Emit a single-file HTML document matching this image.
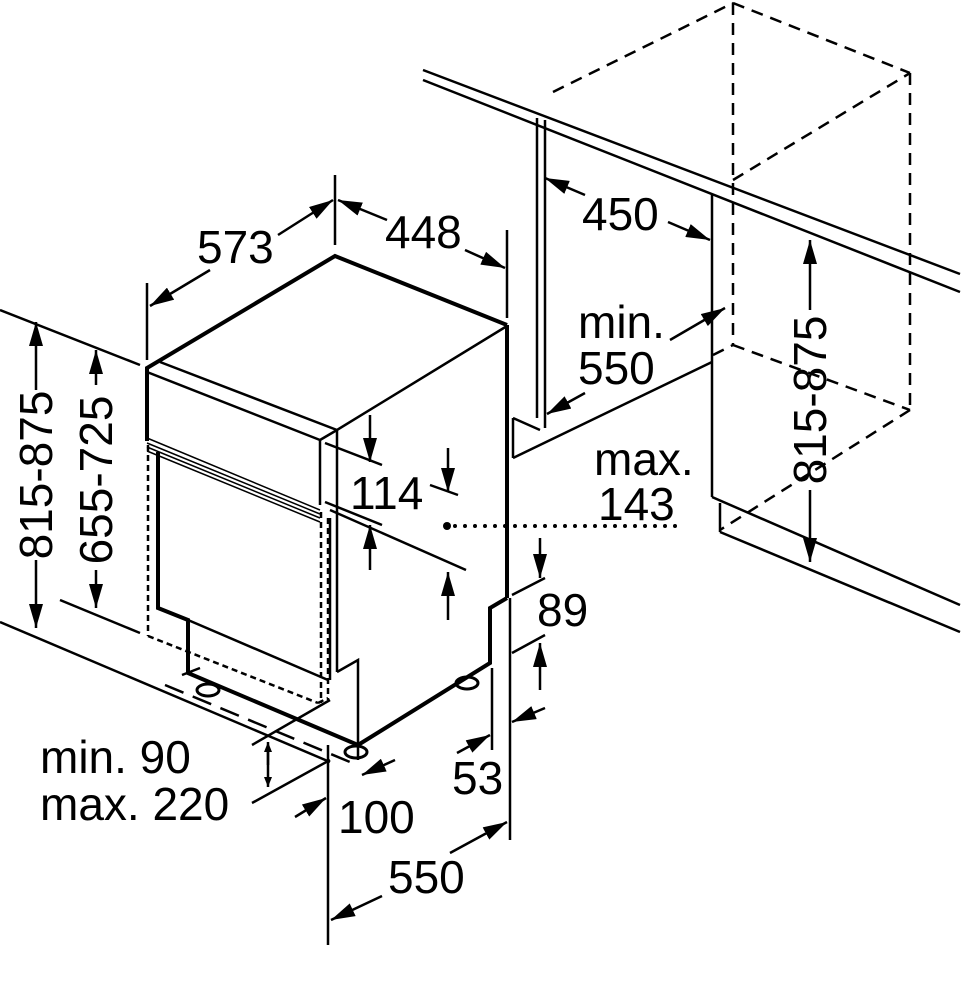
<!DOCTYPE html>
<html><head><meta charset="utf-8"><style>
html,body{margin:0;padding:0;background:#fff;}
svg{display:block;}
text{font-family:"Liberation Sans",Arial,sans-serif;font-size:46px;fill:#000;}
</style></head><body>
<svg width="967" height="1000" viewBox="0 0 967 1000" xmlns="http://www.w3.org/2000/svg">
<defs>
<marker id="a" markerWidth="10" markerHeight="8" refX="10" refY="4" orient="auto" markerUnits="userSpaceOnUse" viewBox="0 0 10 8">
<path d="M0,0 L10,4 L0,8 z" fill="#000"/></marker>
<marker id="A" markerWidth="24" markerHeight="14" refX="24" refY="7" orient="auto" markerUnits="userSpaceOnUse"><path d="M0,0 L24,7 L0,14 z" fill="#000"/></marker>
</defs>
<g stroke="#000" fill="none" stroke-width="2.5">
<line x1="423" y1="70" x2="960" y2="274"/>
<line x1="423" y1="80" x2="960" y2="292"/>
<line x1="537" y1="118" x2="537" y2="418"/>
<line x1="545" y1="120" x2="545" y2="428"/>
<line x1="513" y1="418" x2="540" y2="430"/>
<line x1="513" y1="418" x2="513" y2="458"/>
<line x1="513" y1="458" x2="712" y2="362"/>
<line x1="712" y1="195" x2="712" y2="497"/>
<line x1="712" y1="497" x2="960" y2="605"/>
<line x1="720" y1="503" x2="720" y2="532"/>
<line x1="720" y1="532" x2="960" y2="632"/>
</g>
<g stroke="#000" fill="none" stroke-width="2.5" stroke-dasharray="12,8">
<line x1="553" y1="92" x2="733" y2="3"/>
<line x1="733" y1="3" x2="910" y2="73"/>
<line x1="733" y1="3" x2="733" y2="345"/>
<line x1="910" y1="73" x2="910" y2="410"/>
<line x1="733" y1="180" x2="910" y2="73"/>
<line x1="733" y1="345" x2="910" y2="410"/>
<line x1="910" y1="410" x2="720" y2="530"/>
<line x1="713" y1="355" x2="733" y2="345"/>
</g>
<g stroke="#000" fill="none" stroke-linejoin="miter">
<path d="M147,441 L147,368 L335,256 L507,325" stroke-width="4"/>
<path d="M147,372 L320,440 M160,362 L337,430 L507,326" stroke-width="2.5"/>
<line x1="320" y1="440" x2="320" y2="505" stroke-width="2.5"/>
<line x1="337" y1="430" x2="337" y2="500" stroke-width="2.5"/>
<line x1="320" y1="440" x2="337" y2="430" stroke-width="2.5"/>
<path d="M147,438 L320,510 M147,443 L320,514 M147,447 L320,518 M147,451 L320,522" stroke-width="1.5"/>
<line x1="507" y1="325" x2="507" y2="598" stroke-width="4"/>
<path d="M507,598 L490,608 L490,663 L358,745" stroke-width="4"/>
<path d="M158,452 L158,608 L188,620 L188,673 L358,745" stroke-width="4"/>
<path d="M188,620 L328,680" stroke-width="2.5"/>
<line x1="330" y1="518" x2="330" y2="680" stroke-width="2.5"/>
<line x1="337" y1="500" x2="337" y2="672" stroke-width="2.5"/>
<path d="M337,672 L358,660 L358,760" stroke-width="2.5"/>
<ellipse cx="208" cy="690" rx="11" ry="6" stroke-width="3"/>
<ellipse cx="356" cy="752" rx="11" ry="6" stroke-width="3"/>
<ellipse cx="467" cy="683" rx="11" ry="6" stroke-width="3"/>
</g>
<g stroke="#000" fill="none" stroke-width="2.5" stroke-dasharray="6,4">
<line x1="148" y1="445" x2="148" y2="636"/>
<line x1="148" y1="636" x2="318" y2="703"/>
<line x1="321" y1="512" x2="321" y2="703"/>
<line x1="328" y1="518" x2="328" y2="700"/>
<line x1="318" y1="703" x2="328" y2="698"/>
</g>
<g stroke="#000" fill="none" stroke-width="2.5" stroke-dasharray="20,10">
<line x1="165" y1="685" x2="350" y2="762"/>
<line x1="182" y1="675" x2="200" y2="668"/>
</g>
<circle cx="447" cy="526" r="4" fill="#000"/>
<line x1="455" y1="526" x2="680" y2="526" stroke="#000" stroke-width="4" stroke-dasharray="0,10" stroke-linecap="round"/>
<g stroke="#000" fill="none" stroke-width="2.5">
<line x1="335" y1="175" x2="335" y2="245"/>
<line x1="147" y1="283" x2="147" y2="360"/>
<line x1="507" y1="230" x2="507" y2="318"/>
<line x1="278" y1="235" x2="333" y2="200" marker-end="url(#A)"/>
<line x1="210" y1="270" x2="150" y2="306" marker-end="url(#A)"/>
<line x1="387" y1="220" x2="338" y2="200" marker-end="url(#A)"/>
<line x1="465" y1="250" x2="505" y2="268" marker-end="url(#A)"/>
<line x1="0" y1="310" x2="140" y2="365"/>
<line x1="0" y1="622" x2="330" y2="762"/>
<line x1="60" y1="600" x2="140" y2="633"/>
<line x1="36" y1="390" x2="36" y2="322" marker-end="url(#A)"/>
<line x1="36" y1="560" x2="36" y2="628" marker-end="url(#A)"/>
<line x1="96" y1="385" x2="96" y2="350" marker-end="url(#A)"/>
<line x1="96" y1="570" x2="96" y2="608" marker-end="url(#A)"/>
<line x1="325" y1="443" x2="382" y2="465"/>
<line x1="325" y1="502" x2="382" y2="525"/>
<line x1="330" y1="510" x2="466" y2="570"/>
<line x1="430" y1="485" x2="458" y2="495"/>
<line x1="370" y1="415" x2="370" y2="462" marker-end="url(#A)"/>
<line x1="370" y1="570" x2="370" y2="525" marker-end="url(#A)"/>
<line x1="448" y1="448" x2="448" y2="492" marker-end="url(#A)"/>
<line x1="448" y1="620" x2="448" y2="572" marker-end="url(#A)"/>
<line x1="585" y1="195" x2="545" y2="178" marker-end="url(#A)"/>
<line x1="668" y1="222" x2="710" y2="240" marker-end="url(#A)"/>
<line x1="670" y1="340" x2="725" y2="308" marker-end="url(#A)"/>
<line x1="585" y1="393" x2="547" y2="414" marker-end="url(#A)"/>
<line x1="810" y1="310" x2="810" y2="240" marker-end="url(#A)"/>
<line x1="810" y1="490" x2="810" y2="562" marker-end="url(#A)"/>
<line x1="540" y1="538" x2="540" y2="578" marker-end="url(#A)"/>
<line x1="540" y1="690" x2="540" y2="643" marker-end="url(#A)"/>
<line x1="512" y1="595" x2="545" y2="578"/>
<line x1="512" y1="653" x2="545" y2="635"/>
<line x1="545" y1="708" x2="512" y2="722" marker-end="url(#A)"/>
<line x1="510" y1="598" x2="510" y2="840"/>
<line x1="492" y1="668" x2="492" y2="750"/>
<line x1="457" y1="753" x2="490" y2="735" marker-end="url(#A)"/>
<line x1="252" y1="745" x2="330" y2="700"/>
<line x1="252" y1="803" x2="330" y2="760"/>
<line x1="268" y1="752" x2="268" y2="787" marker-end="url(#a)"/>
<line x1="268" y1="765" x2="268" y2="742" marker-end="url(#a)"/>
<line x1="328" y1="745" x2="328" y2="945"/>
<line x1="295" y1="817" x2="326" y2="798" marker-end="url(#A)"/>
<line x1="395" y1="760" x2="362" y2="775" marker-end="url(#A)"/>
<line x1="450" y1="853" x2="507" y2="822" marker-end="url(#A)"/>
<line x1="382" y1="896" x2="331" y2="920" marker-end="url(#A)"/>
</g>
<text x="197" y="263">573</text>
<text x="385" y="248">448</text>
<text x="582" y="230">450</text>
<text x="578" y="338">min.</text>
<text x="578" y="384">550</text>
<text x="594" y="475">max.</text>
<text x="598" y="520">143</text>
<text x="350" y="509">114</text>
<text x="537" y="626">89</text>
<text x="452" y="794">53</text>
<text x="40" y="773">min. 90</text>
<text x="40" y="820">max. 220</text>
<text x="338" y="833">100</text>
<text x="388" y="893">550</text>
<text transform="translate(52,475) rotate(-90)" text-anchor="middle">815-875</text>
<text transform="translate(112,480) rotate(-90)" text-anchor="middle">655-725</text>
<text transform="translate(826,400) rotate(-90)" text-anchor="middle">815-875</text>
</svg>
</body></html>
